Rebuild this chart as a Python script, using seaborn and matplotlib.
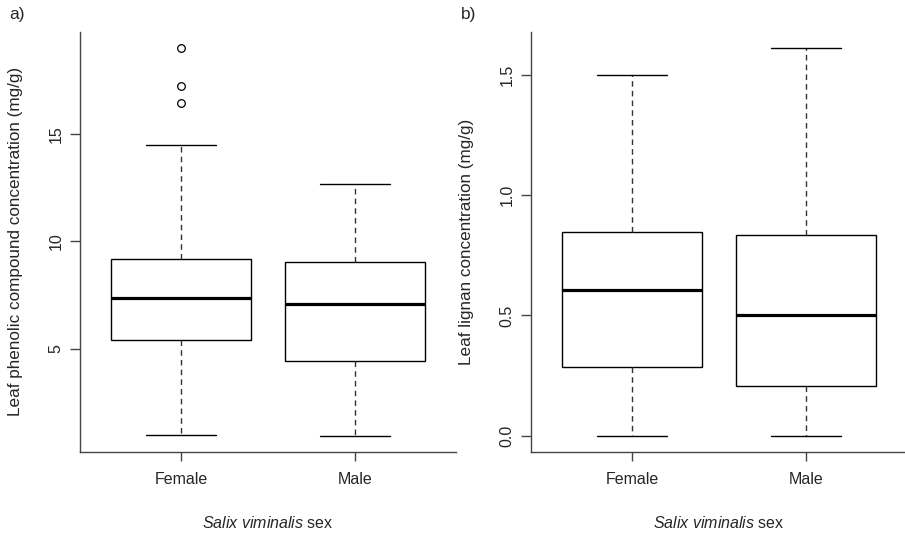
import numpy as np
import pandas as pd
import matplotlib
matplotlib.use("Agg")
import matplotlib.pyplot as plt
import seaborn as sns

# values (5-number summaries + outliers), written out as samples
sexes = ["Female", "Male"]
phenolic_female = [0.97, 2.6, 3.7, 4.7, 5.41, 6.0, 6.6, 7.1, 7.38, 7.8, 8.3, 8.8, 9.18,
                   14.48, 16.48, 17.27, 19.05]
phenolic_male = [0.92, 2.6, 4.44, 5.9, 7.06, 8.0, 9.02, 11.0, 12.7]
lignan_female = [0.0, 0.15, 0.287, 0.45, 0.605, 0.72, 0.845, 1.1, 1.5]
lignan_male = [0.0, 0.1, 0.206, 0.35, 0.5, 0.65, 0.835, 1.2, 1.612]

phen_ticks = [5, 10, 15]
lig_ticks = [0.0, 0.5, 1.0, 1.5]

sns.set_style("white")
plt.rcParams["font.family"] = ["Liberation Sans", "DejaVu Sans"]
plt.rcParams["mathtext.fontset"] = "custom"
plt.rcParams["mathtext.it"] = "Liberation Sans:italic"
plt.rcParams["mathtext.rm"] = "Liberation Sans"

def long_df(female, male):
    return pd.DataFrame({
        "sex": ["Female"] * len(female) + ["Male"] * len(male),
        "value": list(female) + list(male),
    })

fig = plt.figure(figsize=(9.05, 5.33), dpi=100)
ax1 = fig.add_axes([0.0884, 0.1529, 0.4155, 0.787])
ax2 = fig.add_axes([0.5867, 0.1529, 0.4155, 0.787])

axis_col = "#444444"
fs = 11.5

def draw(ax, df, ticks, ticklabels, ylabel, letter, letter_x):
    sns.boxplot(data=df, x="sex", y="value", order=sexes, ax=ax,
                color="white", linecolor="black", linewidth=1.0, width=0.8, whis=1.5,
                medianprops={"linewidth": 2.3, "color": "black"},
                whiskerprops={"linestyle": (0, (4, 3)), "color": "#333333", "linewidth": 1.0},
                capprops={"color": "black", "linewidth": 1.0},
                flierprops={"marker": "o", "markerfacecolor": "none",
                            "markeredgecolor": "black", "markersize": 5.5,
                            "markeredgewidth": 0.9})
    vals = df["value"]
    rng = vals.max() - vals.min()
    ax.set_ylim(vals.min() - 0.04 * rng, vals.max() + 0.04 * rng)
    ax.set_xlim(-0.58, 1.58)
    ax.set_yticks(ticks)
    ax.set_yticklabels(ticklabels)
    for s in ["top", "right"]:
        ax.spines[s].set_visible(False)
    for s in ["left", "bottom"]:
        ax.spines[s].set_color(axis_col)
        ax.spines[s].set_linewidth(1.0)
    ax.tick_params(axis="y", length=7, width=1.0, color=axis_col, pad=5,
                   labelsize=fs, labelrotation=90, left=True)
    ax.tick_params(axis="x", length=6.7, width=1.0, color=axis_col, pad=8,
                   labelsize=fs, bottom=True)
    for lab in ax.get_yticklabels():
        lab.set_va("center")
    ax.set_ylabel(ylabel, fontsize=12.3)
    ax.yaxis.set_label_coords(-0.152, 0.5)
    ax.set_xlabel(r"$\it{Salix\ viminalis}$ sex", fontsize=fs, va="top")
    ax.xaxis.set_label_coords(0.5, -0.151)
    fig.text(letter_x, 1 - 7 / 533, letter, fontsize=12.5, va="top", ha="left")

draw(ax1, long_df(phenolic_female, phenolic_male), phen_ticks,
     [str(t) for t in phen_ticks], "Leaf phenolic compound concentration (mg/g)",
     "a)", 9 / 905)
draw(ax2, long_df(lignan_female, lignan_male), lig_ticks,
     [f"{t:.1f}" for t in lig_ticks], "Leaf lignan concentration (mg/g)",
     "b)", 461 / 905)

fig.savefig("out.png", dpi=100)
